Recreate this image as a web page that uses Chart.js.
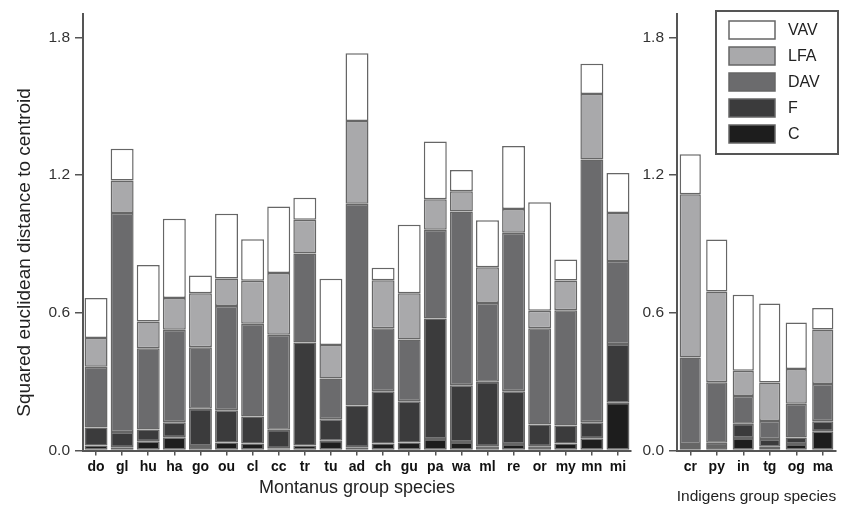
<!DOCTYPE html>
<html>
<head>
<meta charset="utf-8">
<script src="https://cdn.jsdelivr.net/npm/chart.js@4/dist/chart.umd.min.js"></script>
<style>
  body { margin: 0; background: #fff; }
  canvas { position: absolute; top: 0; }
  #left { left: 0; }
  #right { left: 640px; }
</style>
</head>
<body>
<canvas id="left" width="640" height="508"></canvas>
<canvas id="right" width="214" height="508"></canvas>
<script>
// Montanus group species
const montanus = ['do','gl','hu','ha','go','ou','cl','cc','tr','tu','ad','ch','gu','pa','wa','ml','re','or','my','mn','mi'];
const mC   = [0.022,0.014,0.040,0.058,0.020,0.035,0.030,0.010,0.022,0.042,0.014,0.031,0.035,0.050,0.037,0.019,0.028,0.019,0.030,0.053,0.208];
const mF   = [0.078,0.067,0.052,0.065,0.162,0.140,0.118,0.080,0.448,0.094,0.182,0.227,0.180,0.525,0.247,0.280,0.230,0.094,0.079,0.070,0.256];
const mDAV = [0.265,0.954,0.353,0.403,0.268,0.454,0.404,0.414,0.388,0.178,0.879,0.275,0.269,0.387,0.757,0.343,0.691,0.420,0.502,1.145,0.361];
const mLFA = [0.125,0.141,0.117,0.138,0.235,0.120,0.187,0.269,0.147,0.146,0.360,0.209,0.201,0.132,0.088,0.156,0.103,0.076,0.129,0.285,0.210];
const mVAV = [0.174,0.138,0.246,0.346,0.077,0.282,0.181,0.290,0.096,0.288,0.295,0.054,0.298,0.252,0.093,0.205,0.274,0.472,0.092,0.132,0.174];

// Indigens group species
const indigens = ['cr','py','in','tg','og','ma'];
const iC   = [0.015,0.020,0.054,0.016,0.028,0.084];
const iF   = [0.013,0.014,0.063,0.034,0.029,0.043];
const iDAV = [0.377,0.263,0.120,0.079,0.147,0.163];
const iLFA = [0.711,0.396,0.110,0.167,0.151,0.237];
const iVAV = [0.174,0.226,0.331,0.344,0.203,0.094];

const yTicks = [0, 0.6, 1.2, 1.8];
const seriesNames = ['C', 'F', 'DAV', 'LFA', 'VAV'];
const fills = ['#1d1d1d', '#3b3b3c', '#6b6b6d', '#a9a9ab', '#ffffff'];

const axisColor = '#555';

function makeDatasets(series, barPct) {
    return series.map((d, i) => ({
        label: seriesNames[i],
        data: d,
        backgroundColor: fills[i],
        borderColor: '#666',
        borderWidth: 1.5,
        borderSkipped: false,
        barPercentage: barPct,
        categoryPercentage: 1
    }));
}

// draws axis titles (and the legend box on the right panel)
const titlesPlugin = {
    id: 'titles',
    afterDraw(chart, args, opts) {
        const ctx = chart.ctx;
        const a = chart.chartArea;
        ctx.save();
        ctx.fillStyle = '#222';
        ctx.textAlign = 'center';
        ctx.textBaseline = 'middle';
        if (opts.xTitle) {
            ctx.font = opts.xFont;
            ctx.fillText(opts.xTitle, (a.left + a.right) / 2, a.bottom + opts.xOffset);
        }
        if (opts.yTitle) {
            ctx.font = opts.yFont;
            ctx.translate(25, (a.top + a.bottom) / 2 + 20);
            ctx.rotate(-Math.PI / 2);
            ctx.fillText(opts.yTitle, 0, 0);
        }
        ctx.restore();

        if (opts.legend) {
            ctx.save();
            const bx = a.left + 39, by = 11, bw = 122, bh = 143;
            ctx.strokeStyle = '#555';
            ctx.lineWidth = 2;
            ctx.strokeRect(bx, by, bw, bh);
            const ds = chart.data.datasets.slice().reverse();
            ds.forEach((d, i) => {
                const cy = 30 + i * 26;
                ctx.fillStyle = d.backgroundColor;
                ctx.fillRect(bx + 13, cy - 9, 46, 18);
                ctx.strokeStyle = '#666';
                ctx.lineWidth = 1.5;
                ctx.strokeRect(bx + 13, cy - 9, 46, 18);
                ctx.fillStyle = '#222';
                ctx.font = '16px "Liberation Sans", Arial, sans-serif';
                ctx.textAlign = 'left';
                ctx.textBaseline = 'middle';
                ctx.fillText(d.label, bx + 72, cy + 1);
            });
            ctx.restore();
        }
    }
};

function makeOptions(yWidth, padRight, titleOpts) {
    return {
        responsive: false,
        animation: false,
        layout: { padding: { top: 10, right: padRight, left: 0, bottom: 0 } },
        plugins: {
            legend: { display: false },
            tooltip: { enabled: false },
            titles: titleOpts
        },
        scales: {
            x: {
                stacked: true,
                afterFit: s => { s.height = 57.5; },
                grid: { display: true, drawOnChartArea: false, offset: false, tickLength: 5, color: axisColor, lineWidth: 1.5 },
                border: { display: true, color: axisColor, width: 2 },
                ticks: {
                    color: '#111',
                    font: { family: '"Liberation Sans", Arial, sans-serif', size: 14, weight: 'bold' },
                    padding: 3,
                    maxRotation: 0,
                    autoSkip: false
                }
            },
            y: {
                stacked: true,
                min: 0,
                max: 1.9,
                afterFit: s => { s.width = yWidth; },
                afterBuildTicks: s => { s.ticks = yTicks.map(v => ({ value: v })); },
                grid: { display: true, drawOnChartArea: false, tickLength: 8, color: axisColor, lineWidth: 1.5 },
                border: { display: true, color: axisColor, width: 2 },
                ticks: {
                    color: '#333',
                    padding: 5,
                    font: { family: '"Liberation Sans", Arial, sans-serif', size: 15.5 },
                    callback: v => Number(v).toFixed(1)
                }
            }
        }
    };
}

new Chart(document.getElementById('left'), {
    type: 'bar',
    data: {
        labels: montanus,
        datasets: makeDatasets([mC, mF, mDAV, mLFA, mVAV], 0.88)
    },
    options: makeOptions(83, 9, {
        xTitle: 'Montanus group species',
        xFont: '18px "Liberation Sans", Arial, sans-serif',
        xOffset: 38,
        yTitle: 'Squared euclidean distance to centroid',
        yFont: '19px "Liberation Sans", Arial, sans-serif'
    }),
    plugins: [titlesPlugin]
});

new Chart(document.getElementById('right'), {
    type: 'bar',
    data: {
        labels: indigens,
        datasets: makeDatasets([iC, iF, iDAV, iLFA, iVAV], 0.8)
    },
    options: makeOptions(37, 18, {
        xTitle: 'Indigens group species',
        xFont: '15.5px "Liberation Sans", Arial, sans-serif',
        xOffset: 46,
        legend: true
    }),
    plugins: [titlesPlugin]
});
</script>
</body>
</html>
